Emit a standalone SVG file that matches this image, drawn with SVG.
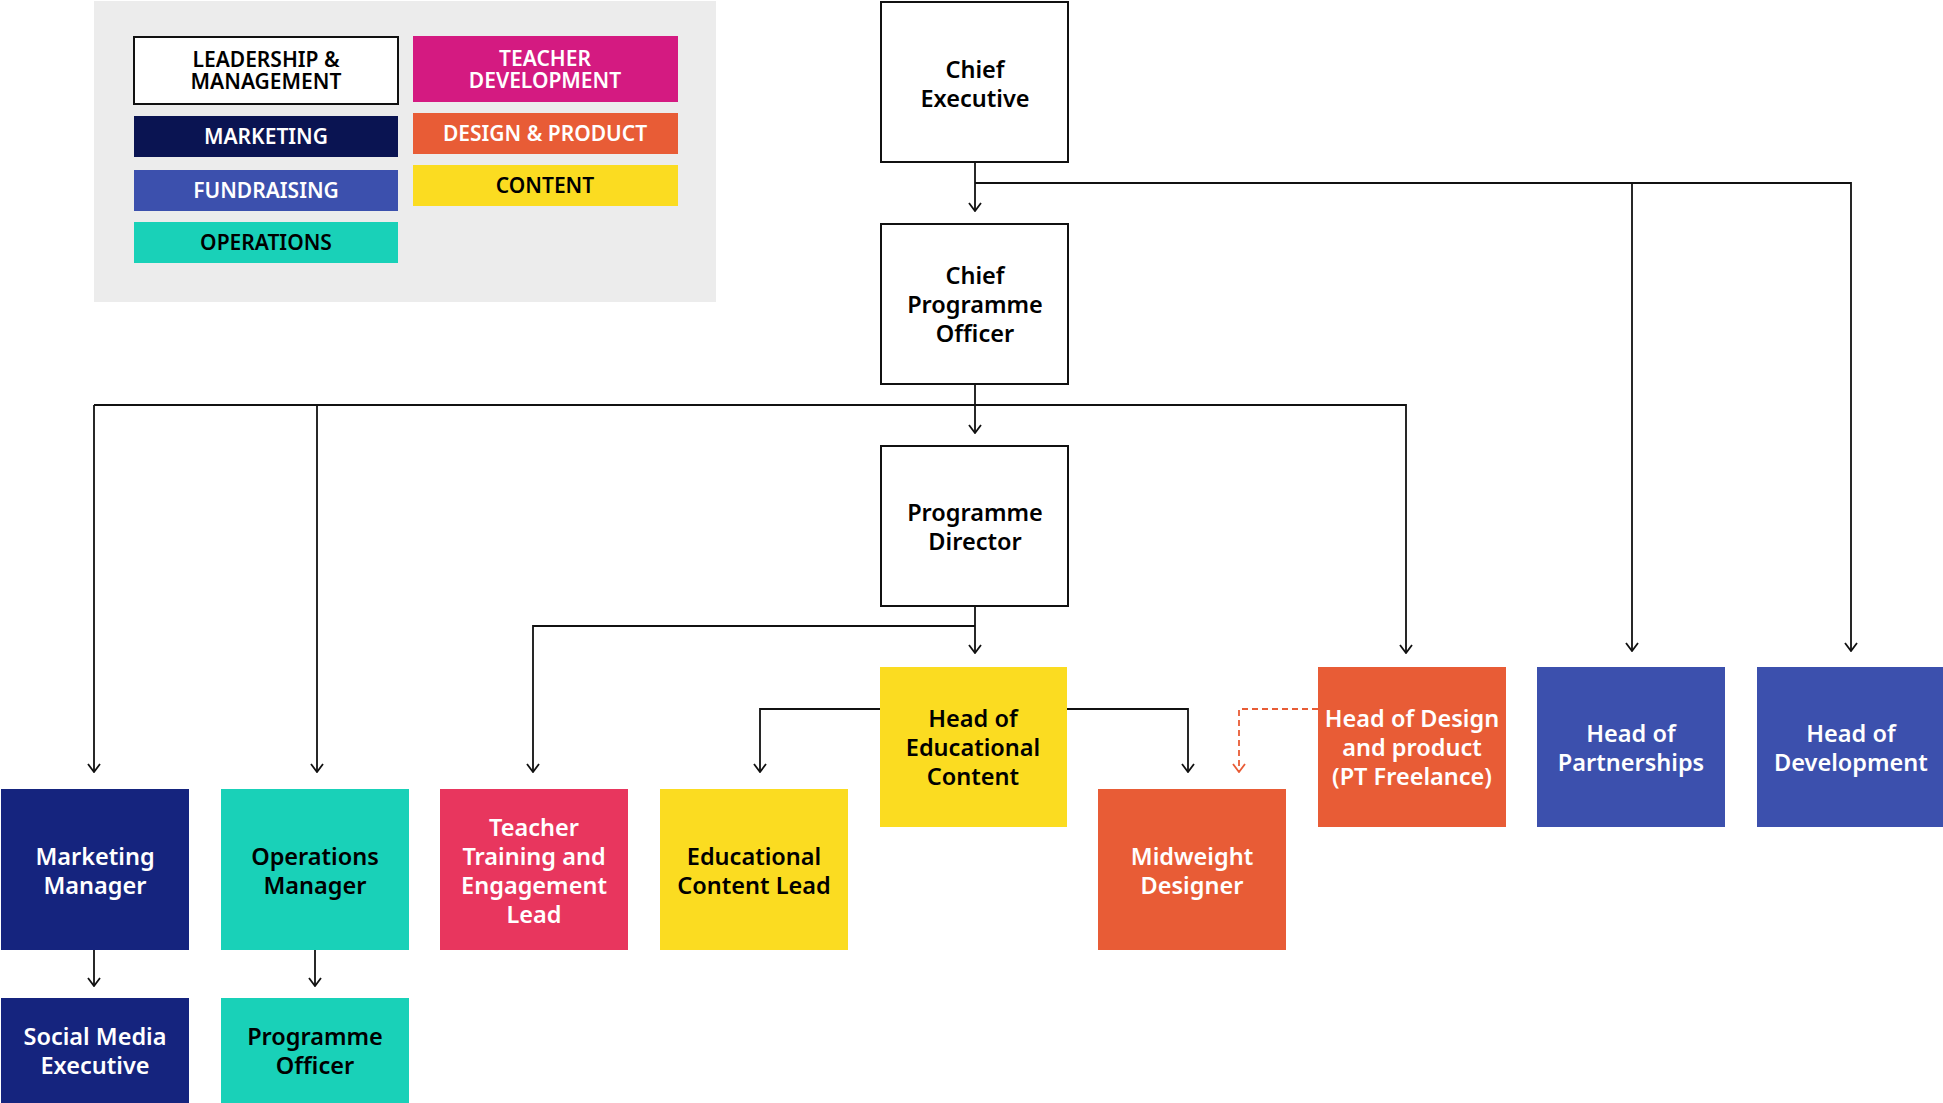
<svg xmlns="http://www.w3.org/2000/svg" width="1943" height="1103" viewBox="0 0 1943 1103">
<style>
.n text{font-family:"Noto Sans","Open Sans",sans-serif;font-weight:600;font-size:23.5px;text-anchor:middle}
.lg text{font-family:"Noto Sans","Open Sans",sans-serif;font-weight:600;font-size:21px;text-anchor:middle}
.w{fill:#ffffff}.k{fill:#000000}
.c line,.c path,.c polyline{fill:none;stroke:#111;stroke-width:1.8}
.d{stroke:#e85c36 !important;stroke-dasharray:6 4}
</style>
<defs>
<marker id="a" viewBox="0 0 10 14" refX="9" refY="7" markerWidth="10" markerHeight="14" markerUnits="userSpaceOnUse" orient="auto">
<path d="M1 1 L9 7 L1 13" fill="none" stroke="#111" stroke-width="1.8"/>
</marker>
<marker id="ar" viewBox="0 0 10 14" refX="9" refY="7" markerWidth="10" markerHeight="14" markerUnits="userSpaceOnUse" orient="auto">
<path d="M1 1 L9 7 L1 13" fill="none" stroke="#e85c36" stroke-width="1.8"/>
</marker>
</defs>
<rect width="1943" height="1103" fill="#ffffff"/>
<g id="legend" class="lg">
<rect x="94" y="1" width="622" height="301" fill="#ececec"/>
<rect x="134" y="37" width="264" height="67" fill="#ffffff" stroke="#111" stroke-width="2"/>
<text class="k" x="266" y="67"><tspan x="266" y="67">LEADERSHIP &amp;</tspan><tspan x="266" y="89">MANAGEMENT</tspan></text>
<rect x="134" y="116" width="264" height="41" fill="#0a1452"/>
<text class="w" x="266" y="144">MARKETING</text>
<rect x="134" y="170" width="264" height="41" fill="#3c50ad"/>
<text class="w" x="266" y="198">FUNDRAISING</text>
<rect x="134" y="222" width="264" height="41" fill="#19d1b8"/>
<text class="k" x="266" y="250">OPERATIONS</text>
<rect x="413" y="36" width="265" height="66" fill="#d41a81"/>
<text class="w" x="545" y="66"><tspan x="545" y="66">TEACHER</tspan><tspan x="545" y="88">DEVELOPMENT</tspan></text>
<rect x="413" y="113" width="265" height="41" fill="#e85c36"/>
<text class="w" x="545" y="141">DESIGN &amp; PRODUCT</text>
<rect x="413" y="165" width="265" height="41" fill="#fbdc21"/>
<text class="k" x="545" y="193">CONTENT</text>
</g>
<g id="connectors" class="c">
<line x1="975" y1="162" x2="975" y2="211" marker-end="url(#a)"/>
<polyline points="975,183 1851,183 1851,651" marker-end="url(#a)"/>
<line x1="1632" y1="183" x2="1632" y2="651" marker-end="url(#a)"/>
<line x1="975" y1="384" x2="975" y2="433" marker-end="url(#a)"/>
<polyline points="94,405 1406,405 1406,653" marker-end="url(#a)"/>
<line x1="94" y1="405" x2="94" y2="772" marker-end="url(#a)"/>
<line x1="317" y1="405" x2="317" y2="772" marker-end="url(#a)"/>
<line x1="975" y1="606" x2="975" y2="653" marker-end="url(#a)"/>
<polyline points="975,626 533,626 533,772" marker-end="url(#a)"/>
<polyline points="880,709 760,709 760,772" marker-end="url(#a)"/>
<polyline points="1067,709 1188,709 1188,772" marker-end="url(#a)"/>
<polyline class="d" points="1318,709 1239,709 1239,772" marker-end="url(#ar)"/>
<line x1="94" y1="950" x2="94" y2="986" marker-end="url(#a)"/>
<line x1="315" y1="950" x2="315" y2="986" marker-end="url(#a)"/>
</g>
<g id="chief-executive" class="n">
<rect x="881" y="2" width="187" height="160" fill="#ffffff" stroke="#111" stroke-width="2"/>
<text class="k" x="975" y="78">Chief</text>
<text class="k" x="975" y="107">Executive</text>
</g>
<g id="chief-programme-officer" class="n">
<rect x="881" y="224" width="187" height="160" fill="#ffffff" stroke="#111" stroke-width="2"/>
<text class="k" x="975" y="284">Chief</text>
<text class="k" x="975" y="313">Programme</text>
<text class="k" x="975" y="342">Officer</text>
</g>
<g id="programme-director" class="n">
<rect x="881" y="446" width="187" height="160" fill="#ffffff" stroke="#111" stroke-width="2"/>
<text class="k" x="975" y="521">Programme</text>
<text class="k" x="975" y="550">Director</text>
</g>
<g id="head-educational-content" class="n">
<rect x="880" y="667" width="187" height="160" fill="#fbdc21"/>
<text class="k" x="973" y="727">Head of</text>
<text class="k" x="973" y="756">Educational</text>
<text class="k" x="973" y="785">Content</text>
</g>
<g id="head-design" class="n">
<rect x="1318" y="667" width="188" height="160" fill="#e85c36"/>
<text class="w" x="1412" y="727">Head of Design</text>
<text class="w" x="1412" y="756">and product</text>
<text class="w" x="1412" y="785">(PT Freelance)</text>
</g>
<g id="head-partnerships" class="n">
<rect x="1537" y="667" width="188" height="160" fill="#3c50ad"/>
<text class="w" x="1631" y="742">Head of</text>
<text class="w" x="1631" y="771">Partnerships</text>
</g>
<g id="head-development" class="n">
<rect x="1757" y="667" width="186" height="160" fill="#3c50ad"/>
<text class="w" x="1851" y="742">Head of</text>
<text class="w" x="1851" y="771">Development</text>
</g>
<g id="marketing-manager" class="n">
<rect x="1" y="789" width="188" height="161" fill="#15247e"/>
<text class="w" x="95" y="865">Marketing</text>
<text class="w" x="95" y="894">Manager</text>
</g>
<g id="operations-manager" class="n">
<rect x="221" y="789" width="188" height="161" fill="#19d1b8"/>
<text class="k" x="315" y="865">Operations</text>
<text class="k" x="315" y="894">Manager</text>
</g>
<g id="teacher-training" class="n">
<rect x="440" y="789" width="188" height="161" fill="#e8365e"/>
<text class="w" x="534" y="836">Teacher</text>
<text class="w" x="534" y="865">Training and</text>
<text class="w" x="534" y="894">Engagement</text>
<text class="w" x="534" y="923">Lead</text>
</g>
<g id="educational-content-lead" class="n">
<rect x="660" y="789" width="188" height="161" fill="#fbdc21"/>
<text class="k" x="754" y="865">Educational</text>
<text class="k" x="754" y="894">Content Lead</text>
</g>
<g id="midweight-designer" class="n">
<rect x="1098" y="789" width="188" height="161" fill="#e85c36"/>
<text class="w" x="1192" y="865">Midweight</text>
<text class="w" x="1192" y="894">Designer</text>
</g>
<g id="social-media-executive" class="n">
<rect x="1" y="998" width="188" height="105" fill="#15247e"/>
<text class="w" x="95" y="1045">Social Media</text>
<text class="w" x="95" y="1074">Executive</text>
</g>
<g id="programme-officer" class="n">
<rect x="221" y="998" width="188" height="105" fill="#19d1b8"/>
<text class="k" x="315" y="1045">Programme</text>
<text class="k" x="315" y="1074">Officer</text>
</g>
</svg>
